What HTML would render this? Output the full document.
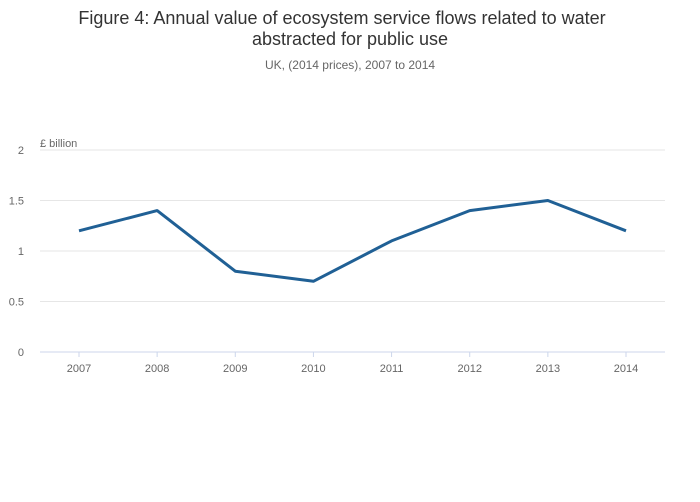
<!DOCTYPE html>
<html><head><meta charset="utf-8"><style>
body{margin:0;background:#fff;font-family:"Liberation Sans",sans-serif;}
svg{display:block}
</style></head><body>
<svg width="700" height="502">
<text x="342" y="24" text-anchor="middle" font-size="18" fill="#333">Figure 4: Annual value of ecosystem service flows related to water</text>
<text x="350" y="45" text-anchor="middle" font-size="18" fill="#333">abstracted for public use</text>
<text x="350" y="69" text-anchor="middle" font-size="12" fill="#666">UK, (2014 prices), 2007 to 2014</text>
<text x="40" y="147" font-size="11" fill="#666">£ billion</text>
<g id="grid"></g><g id="xt"></g>
<path id="line" fill="none" stroke="#206095" stroke-width="3" stroke-linejoin="round"/>
</svg>
<script>
const categories=["2007","2008","2009","2010","2011","2012","2013","2014"];
const values=[1.2,1.4,0.8,0.7,1.1,1.4,1.5,1.2];
const yTicks=[0,0.5,1,1.5,2];
const yTickLabels=["0","0.5","1","1.5","2"];
const NS="http://www.w3.org/2000/svg";
const y=v=>352-v*101;
const x=i=>79+i*(626-79)/(categories.length-1);
const g=document.getElementById('grid');
yTicks.forEach((t,i)=>{
 const l=document.createElementNS(NS,'line');
 
 
 l.setAttribute('x1',40);l.setAttribute('x2',665);l.setAttribute('y1',y(t));l.setAttribute('y2',y(t));
 l.setAttribute('stroke',t===0?'#ccd6eb':'#e6e6e6');l.setAttribute('stroke-width',1);
 g.appendChild(l);
 const tx=document.createElementNS(NS,'text');
 
 
 tx.setAttribute('x',24);tx.setAttribute('y',y(t)+4);tx.setAttribute('text-anchor','end');
 tx.setAttribute('font-size','11');tx.setAttribute('fill','#666');tx.textContent=yTickLabels[i];
 g.appendChild(tx);
});
const xt=document.getElementById('xt');
categories.forEach((c,i)=>{
 const tk=document.createElementNS(NS,'line');
 
 
 tk.setAttribute('x1',x(i));tk.setAttribute('x2',x(i));tk.setAttribute('y1',352);tk.setAttribute('y2',357);
 tk.setAttribute('stroke','#ccd6eb');xt.appendChild(tk);
 const tx=document.createElementNS(NS,'text');
 
 
 tx.setAttribute('x',x(i));tx.setAttribute('y',372);tx.setAttribute('text-anchor','middle');
 tx.setAttribute('font-size','11');tx.setAttribute('fill','#666');tx.textContent=c;
 xt.appendChild(tx);
});
document.getElementById('line').setAttribute('d',values.map((v,i)=>(i?'L':'M')+x(i)+','+y(v)).join(''));
</script>
</body></html>
